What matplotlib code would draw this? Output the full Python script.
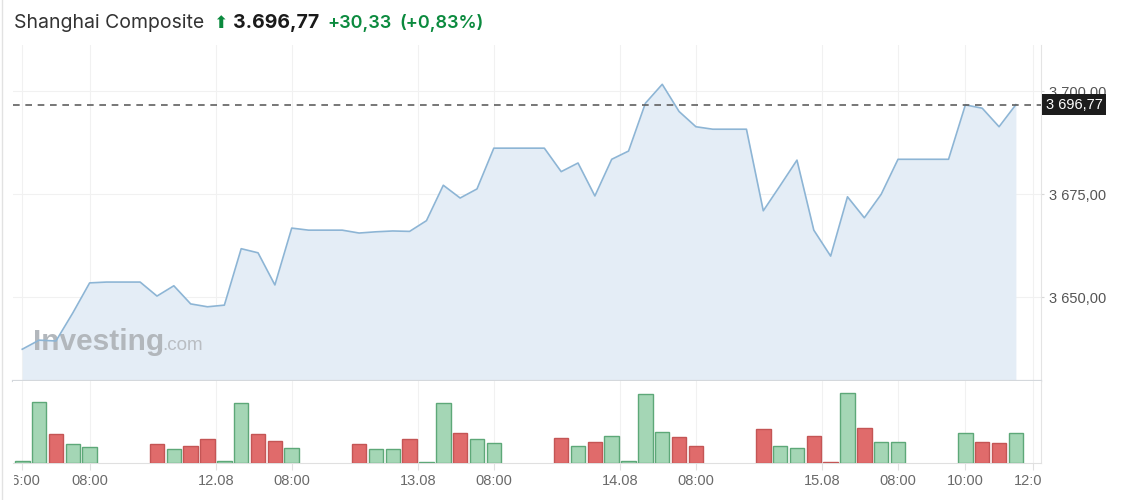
import matplotlib
matplotlib.use("Agg")
import matplotlib.pyplot as plt
import numpy as np
from matplotlib.lines import Line2D
from matplotlib.transforms import Bbox, TransformedBbox

# Data (30-minute bars, index based axis)
close = [3637.4, 3639.6, 3639.4, 3646.2, 3653.5, 3653.7, 3653.7, 3653.7, 3650.3, 3652.8,
         3648.4, 3647.7, 3648.1, 3661.8, 3660.8, 3653.0, 3666.8, 3666.3, 3666.3, 3666.3,
         3665.6, 3665.9, 3666.1, 3666.0, 3668.6, 3677.2, 3674.1, 3676.3, 3686.2, 3686.2,
         3686.2, 3686.2, 3680.5, 3682.6, 3674.6, 3683.5, 3685.5, 3697.1, 3701.7, 3695.1,
         3691.4, 3690.8, 3690.8, 3690.8, 3671.0, 3677.1, 3683.3, 3666.3, 3660.0, 3674.4,
         3669.3, 3675.0, 3683.5, 3683.5, 3683.5, 3683.5, 3696.7, 3695.9, 3691.4, 3696.77]
nan = np.nan
volume = [2.0, 61.3, 28.7, 18.7, 16.3, nan, nan, nan, 18.7, 13.7,
          17.3, 23.7, 2.3, 59.7, 28.7, 22.3, 14.7, nan, nan, nan,
          18.7, 13.7, 13.7, 24.0, 1.0, 59.7, 29.7, 24.0, 19.7, nan,
          nan, nan, 24.7, 17.3, 21.0, 27.3, 2.3, 68.7, 31.0, 26.0,
          17.3, nan, nan, nan, 33.7, 17.3, 14.7, 27.3, 1.0, 69.7,
          34.7, 20.7, 20.7, nan, nan, nan, 29.7, 20.7, 19.7, 29.7]
tick_pos = [0, 4, 11.5, 16, 23.5, 28, 35.5, 40, 47.5, 52, 56, 60]
tick_labels = ['06:00', '08:00', '12.08', '08:00', '13.08', '08:00', '14.08',
               '08:00', '15.08', '08:00', '10:00', '12:00']
price_ticks = [3650, 3675, 3700]
last_price = 3696.77

W, H = 1123, 500
fig = plt.figure(figsize=(W / 100, H / 100), dpi=100)


def px_axes(l, t, r, b):
    return fig.add_axes([l / W, 1 - b / H, (r - l) / W, (b - t) / H])


ax = px_axes(13, 45, 1041, 380.7)
axv = px_axes(13, 381, 1041, 463)

x = np.arange(len(close))
xlim = (-0.55, 60.49)

# price panel
ax.fill_between(x, close, 3600, color='#e4edf6', lw=0, zorder=1)
ax.plot(x, close, color='#8db5d5', lw=1.2, zorder=3)
ax.axhline(last_price, color='#606060', lw=1.2, ls=(0, (4, 3.4)), zorder=4)
ax.set_xlim(*xlim)
ax.set_ylim(3629.76, 3711.24)
ax.set_xticks(tick_pos)
ax.set_xticklabels([])
ax.set_yticks(price_ticks)
ax.set_yticklabels([f"3 {int(v) - 3000:03d},00" for v in price_ticks])
ax.yaxis.tick_right()
ax.tick_params(axis='x', length=0)
ax.tick_params(axis='y', length=2.2, width=0.8, color='#d8d8d8', pad=3.6,
               labelsize=10.5, labelcolor='#555555')
ax.grid(True, color='#f1f1f1', lw=0.8)
ax.set_axisbelow(True)
for s in ['top', 'left']:
    ax.spines[s].set_visible(False)
ax.spines['right'].set_color('#e4e4e4')
ax.spines['bottom'].set_color('#d4d8dc')
ax.spines['bottom'].set_linewidth(1.6)
for lab in ax.get_yticklabels():
    lab.set_family(['Liberation Sans', 'DejaVu Sans'])

# current price label
ax.text(1.0045, last_price, "3 696,77", transform=ax.get_yaxis_transform(),
        ha='left', va='center', color='white', fontsize=10.5,
        family=['Liberation Sans', 'DejaVu Sans'], zorder=10, clip_on=False,
        bbox=dict(boxstyle='square,pad=0.22', fc='#1c1c1c', ec='none'))

# watermark
ax.text(0.0195, 0.09, "Investing", transform=ax.transAxes, fontsize=21.5,
        fontweight='bold', color='#b2b7bc', family='Liberation Sans', zorder=2)
ax.text(0.145, 0.09, ".com", transform=ax.transAxes, fontsize=13.6,
        color='#b9bdc2', family='Liberation Sans', zorder=2)

# volume panel
green_fc, green_ec = '#a4d6b5', '#5da878'
red_fc, red_ec = '#e06b6b', '#c45555'
fcs, ecs = [], []
for i in range(len(close)):
    up = i == 0 or close[i] >= close[i - 1]
    fcs.append(green_fc if up else red_fc)
    ecs.append(green_ec if up else red_ec)
vol = np.array(volume)
mask = ~np.isnan(vol)
axv.bar(x[mask], vol[mask], width=0.86, color=np.array(fcs)[mask],
        edgecolor=np.array(ecs)[mask], linewidth=1.0, zorder=3)
axv.set_xlim(*xlim)
axv.set_ylim(0, 82)
axv.set_yticks([])
axv.set_xticks(tick_pos)
axv.set_xticklabels(tick_labels)
axv.tick_params(axis='x', length=5, width=0.8, color='#e0e0e0', pad=3,
                labelsize=10.5, labelcolor='#6a6a6a')
axv.grid(True, axis='x', color='#f1f1f1', lw=0.8)
axv.set_axisbelow(True)
for s in ['top', 'left']:
    axv.spines[s].set_visible(False)
axv.spines['right'].set_color('#e4e4e4')
axv.spines['bottom'].set_color('#e0e0e0')
clip = TransformedBbox(Bbox.from_extents(14 / W, 0, 1041 / W, 1), fig.transFigure)
for lab in axv.get_xticklabels():
    lab.set_family(['Liberation Sans', 'DejaVu Sans'])
    lab.set_clip_box(clip)
    lab.set_clip_on(True)

# left border of the widget
fig.add_artist(Line2D([2 / W, 2 / W], [0, 1], color='#e2e2e2', lw=1))

# header
hy = 1 - 28 / H
fig.text(14 / W, hy, "Shanghai Composite", fontsize=14, color='#333333',
         family=['Inter', 'DejaVu Sans'], va='baseline')
fig.text(213 / W, hy, "\u2b06", fontsize=12.5, color='#0b8a3e',
         family=['DejaVu Sans'], va='baseline')
fig.text(233 / W, hy, "3.696,77", fontsize=14, color='#1a1a1a', fontweight='bold',
         family=['Inter', 'DejaVu Sans'], va='baseline')
fig.text(327 / W, hy, "+30,33", fontsize=13, color='#0b8a3e', fontweight='semibold',
         family=['Inter', 'DejaVu Sans'], va='baseline')
fig.text(399 / W, hy, "(+0,83%)", fontsize=13, color='#0b8a3e', fontweight='semibold',
         family=['Inter', 'DejaVu Sans'], va='baseline')

fig.savefig("out.png", dpi=100)
